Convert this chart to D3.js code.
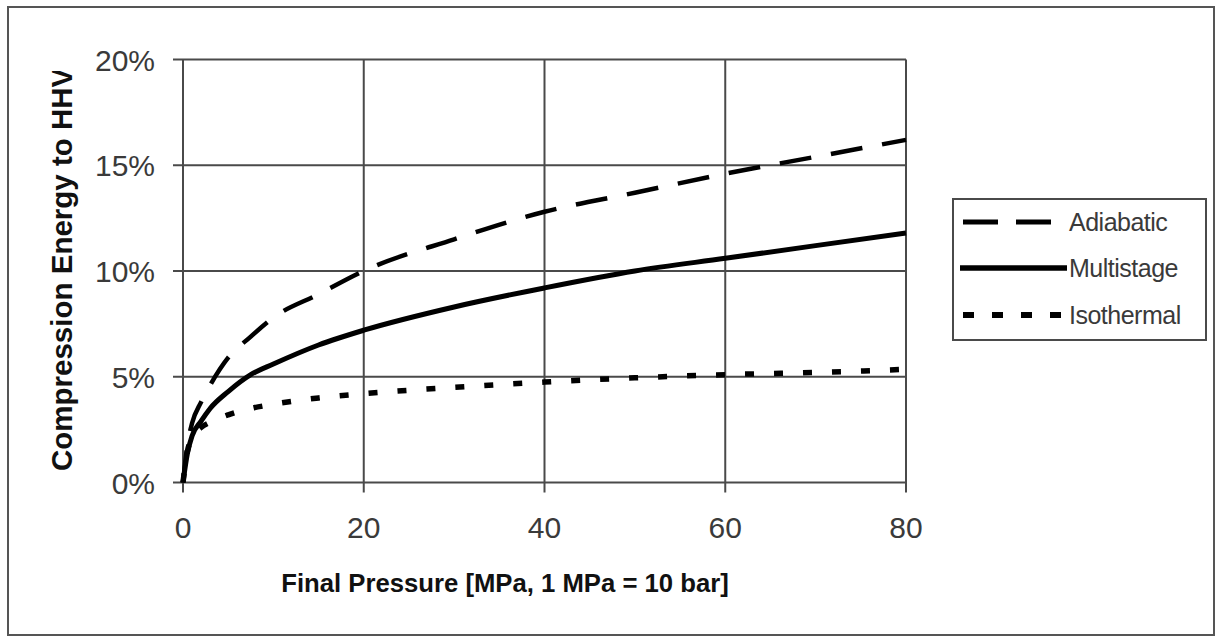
<!DOCTYPE html>
<html><head><meta charset="utf-8">
<script src="https://cdn.jsdelivr.net/npm/d3@7"></script>
<style>body{margin:0;background:#fff}svg{display:block}</style>
</head><body>
<script>
const pressure = [0, 0.5, 1, 2, 3, 5, 7.5, 10, 15, 20, 30, 40, 50, 60, 70, 80];
const adiabatic = [0, 1.8, 2.8, 3.8, 4.6, 5.9, 6.9, 7.8, 8.9, 10.0, 11.5, 12.8, 13.7, 14.6, 15.4, 16.2];
const multistage = [0, 1.4, 2.2, 2.9, 3.5, 4.3, 5.1, 5.6, 6.5, 7.2, 8.3, 9.2, 10.0, 10.6, 11.2, 11.8];
const isothermal = [0, 1.5, 2.1, 2.6, 2.85, 3.2, 3.5, 3.7, 4.0, 4.2, 4.5, 4.75, 4.95, 5.1, 5.2, 5.35];
const seriesNames = ["Adiabatic", "Multistage", "Isothermal"];
const xTicks = [0, 20, 40, 60, 80];
const yTicks = [0, 5, 10, 15, 20];
const xTitle = "Final Pressure [MPa, 1 MPa = 10 bar]";
const yTitle = "Compression Energy to HHV";

const W = 1216, H = 637;
const svg = d3.select("body").append("svg").attr("width", W).attr("height", H);
svg.append("rect").attr("x", 8).attr("y", 7).attr("width", 1206).attr("height", 628)
  .attr("fill", "#fff").attr("stroke", "#555").attr("stroke-width", 2);

const x = d3.scaleLinear().domain([0, 80]).range([183, 906]);
const y = d3.scaleLinear().domain([0, 20]).range([482.5, 59.5]);
const font = "'Liberation Sans', Arial, sans-serif";

const g = svg.append("g");
// grid
g.selectAll(".gx").data(xTicks).join("line")
  .attr("x1", d => x(d)).attr("x2", d => x(d)).attr("y1", y(20)).attr("y2", y(0) + 10)
  .attr("stroke", "#4a4a4a").attr("stroke-width", 2);
g.selectAll(".gy").data(yTicks).join("line")
  .attr("x1", x(0) - 10).attr("x2", x(80)).attr("y1", d => y(d)).attr("y2", d => y(d))
  .attr("stroke", "#4a4a4a").attr("stroke-width", 2);

// axis labels
g.selectAll(".tx").data(xTicks).join("text")
  .attr("x", d => x(d)).attr("y", 538).attr("text-anchor", "middle")
  .attr("font-family", font).attr("font-size", 30).attr("fill", "#3a3a3a").text(d => d);
g.selectAll(".ty").data(yTicks).join("text")
  .attr("x", 155).attr("y", d => y(d) + 11).attr("text-anchor", "end")
  .attr("font-family", font).attr("font-size", 30).attr("fill", "#3a3a3a").text(d => d + "%");

svg.append("text").attr("x", 505).attr("y", 592).attr("text-anchor", "middle")
  .attr("font-family", font).attr("font-weight", "bold").attr("font-size", 25.7).attr("fill", "#111")
  .text(xTitle);

svg.append("clipPath").attr("id", "yclip").append("rect")
  .attr("x", 20).attr("y", 71).attr("width", 80).attr("height", 420);
svg.append("g").attr("clip-path", "url(#yclip)")
  .append("text")
  .attr("transform", "translate(72,471) rotate(-90)")
  .attr("font-family", font).attr("font-weight", "bold").attr("font-size", 29.5).attr("fill", "#111")
  .text(yTitle);

const styles = {
  Adiabatic: {w: 4.5, dash: "32,20"},
  Multistage: {w: 5, dash: null},
  Isothermal: {w: 5.5, dash: "9,20"}
};
const dataMap = {Adiabatic: adiabatic, Multistage: multistage, Isothermal: isothermal};
const line = d3.line().x(d => x(d[0])).y(d => y(d[1])).curve(d3.curveMonotoneX);
seriesNames.forEach(n => {
  const pts = pressure.map((p, i) => [p, dataMap[n][i]]);
  svg.append("path").attr("d", line(pts)).attr("fill", "none").attr("stroke", "#000")
    .attr("stroke-width", styles[n].w).attr("stroke-dasharray", styles[n].dash);
});

// legend
const lg = svg.append("g");
lg.append("rect").attr("x", 953).attr("y", 199).attr("width", 253).attr("height", 141)
  .attr("fill", "#fff").attr("stroke", "#4a4a4a").attr("stroke-width", 2);
const legY = [222, 268, 315];
const legX1 = [963, 960, 963], legX2 = [1053, 1067, 1063];
seriesNames.forEach((n, i) => {
  lg.append("line").attr("x1", legX1[i]).attr("x2", legX2[i]).attr("y1", legY[i]).attr("y2", legY[i])
    .attr("stroke", "#000").attr("stroke-width", styles[n].w + 0.5)
    .attr("stroke-dasharray", i === 0 ? "35,18" : (i === 2 ? "11,18" : null));
  lg.append("text").attr("x", 1069).attr("y", legY[i] + 9)
    .attr("font-family", font).attr("font-size", 25).attr("fill", "#3a3a3a")
    .attr("letter-spacing", -0.5).text(n);
});
</script>
</body></html>
